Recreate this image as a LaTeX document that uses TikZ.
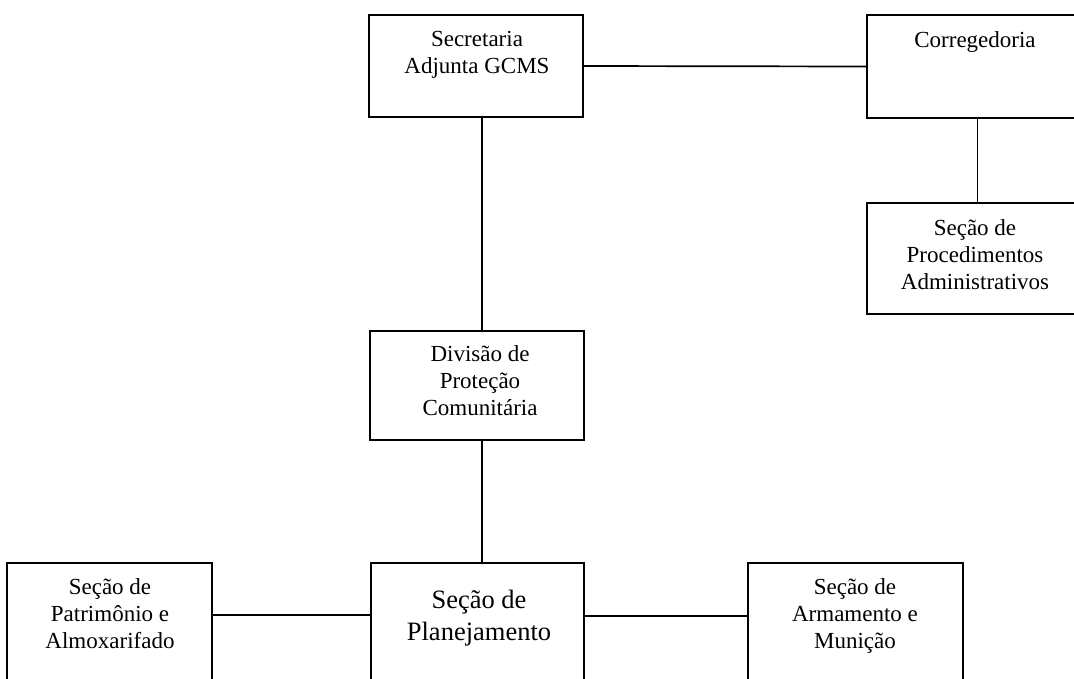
\documentclass[tikz,border=0pt]{standalone}
\usepackage{fontspec}
\setmainfont{Liberation Serif}
\begin{document}
\begin{tikzpicture}[x=1pt,y=-1pt,
  box/.style={draw, line width=2pt, rectangle, inner sep=0pt},
  txt/.style={font=\fontsize{23}{27}\selectfont, align=center, inner sep=0pt, anchor=north},
  bigtxt/.style={font=\fontsize{26.5}{32}\selectfont, align=center, inner sep=0pt, anchor=north},
  conn/.style={line width=1.7pt}]
\useasboundingbox (0,0) rectangle (1074,678);
\clip (0,0) rectangle (1074,678);
% boxes
\node[box, minimum width=214pt, minimum height=102pt] (sec) at (476,66) {};
\node[box, minimum width=216pt, minimum height=103pt] (cor) at (975,66.5) {};
\node[box, minimum width=216pt, minimum height=111pt] (proc) at (975,258.5) {};
\node[box, minimum width=214pt, minimum height=109pt] (div) at (477,385.5) {};
\node[box, minimum width=213pt, minimum height=140pt] (plan) at (477.5,633) {};
\node[box, minimum width=205pt, minimum height=140pt] (pat) at (109.5,633) {};
\node[box, minimum width=215pt, minimum height=140pt] (arm) at (855.5,633) {};
% texts
\node[txt] (secT) at (477,31.5) {Secretaria\\Adjunta GCMS};
\node[txt] (corT) at (975,31) {Corregedoria};
\node[txt] (procT) at (975,219) {Seção de\\Procedimentos\\Administrativos};
\node[txt] (divT) at (480,345.5) {Divisão de\\Proteção\\Comunitária};
\node[bigtxt] (planT) at (479,590) {Seção de\\Planejamento};
\node[txt] (patT) at (110,578) {Seção de\\Patrimônio e\\Almoxarifado};
\node[txt] (armT) at (855,578) {Seção de\\Armamento e\\Munição};
% connectors
\draw[conn] (sec.east) -- (cor.west);
\draw[conn] ([xshift=6pt]sec.south) -- ([xshift=5pt]div.north);
\draw[conn] ([xshift=5pt]div.south) -- ([xshift=4.5pt]plan.north);
\draw[conn] ([xshift=2.5pt]cor.south) -- ([xshift=2.5pt]proc.north);
\draw[conn] ([yshift=18pt]pat.east) -- ([yshift=18pt]plan.west);
\draw[conn] ([yshift=17pt]plan.east) -- ([yshift=17pt]arm.west);
\end{tikzpicture}
\end{document}
